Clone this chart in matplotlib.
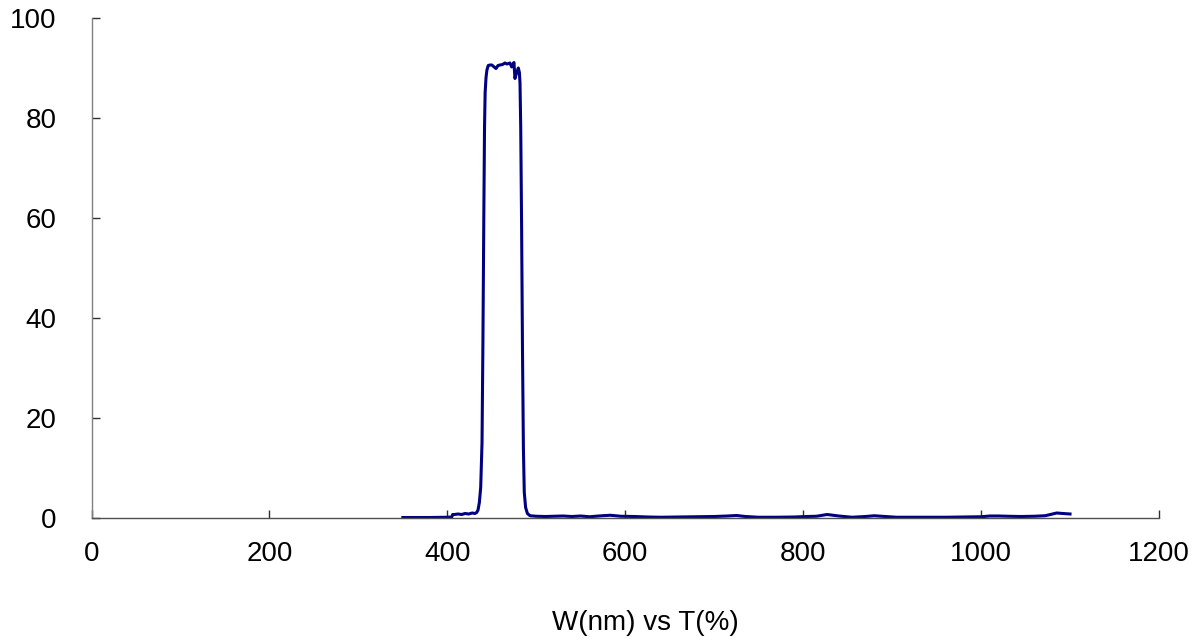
import matplotlib
matplotlib.use("Agg")
import matplotlib.pyplot as plt

wavelength_nm = [350, 360, 380, 400, 405, 406, 408, 412, 416, 420, 424, 428, 431, 433,
                 434.5, 436, 437.5, 439, 440, 441, 441.8, 442.5, 443.5, 444.5, 446,
                 448, 450, 452, 454.7, 457, 459.2, 462, 464.8, 467, 470.4, 472.3,
                 474.9, 476, 478, 479.8, 481, 481.7, 482.5, 483.5, 484.5, 485.5,
                 486.5, 488, 490, 493, 500, 510, 520, 530, 540, 550, 560, 570, 583, 595,
                 610, 625, 640, 660, 680, 700, 715, 725, 735, 750, 770, 790, 805,
                 815, 827, 840, 855, 870, 880, 892, 905, 920, 940, 960, 980, 1000,
                 1010, 1020, 1030, 1045, 1060, 1072, 1085, 1092, 1100]
transmission_pct = [0.0, 0.0, 0.0, 0.05, 0.1, 0.6, 0.6, 0.7, 0.6, 0.8, 0.7, 0.9, 0.8, 1.0,
                    1.5, 3.0, 6.0, 15.0, 35.0, 60.0, 78.0, 85.0, 88.0, 89.5, 90.4,
                    90.5, 90.5, 90.2, 89.8, 90.4, 90.5, 90.6, 90.9, 90.7, 90.9, 90.1,
                    91.0, 87.8, 89.0, 89.9, 89.0, 86.9, 78.0, 58.0, 33.0, 14.0,
                    5.0, 2.0, 0.8, 0.35, 0.25, 0.2, 0.25, 0.3, 0.2, 0.3, 0.15, 0.3, 0.45, 0.25,
                    0.2, 0.1, 0.05, 0.1, 0.15, 0.2, 0.3, 0.4, 0.2, 0.05, 0.05, 0.1, 0.2,
                    0.25, 0.6, 0.3, 0.05, 0.2, 0.35, 0.2, 0.05, 0.05, 0.05, 0.05, 0.1, 0.15,
                    0.3, 0.3, 0.25, 0.2, 0.25, 0.35, 0.9, 0.8, 0.7]

x_ticks = [0, 200, 400, 600, 800, 1000, 1200]
y_ticks = [0, 20, 40, 60, 80, 100]
x_label = "W(nm) vs T(%)"

plt.rcParams['font.family'] = ['Liberation Sans', 'DejaVu Sans']

fig = plt.figure(figsize=(11.95, 6.44), dpi=100)
ax = fig.add_axes([91.5 / 1195, 1 - 517.5 / 644, (1159 - 91.5) / 1195, 500 / 644])

ax.plot(wavelength_nm, transmission_pct, color='#000080', linewidth=2.2,
        solid_joinstyle='round', clip_on=False)

ax.set_xlim(0, 1200)
ax.set_ylim(0, 100)
ax.set_xticks(x_ticks)
ax.set_yticks(y_ticks)
ax.set_xticklabels([str(v) for v in x_ticks])
ax.set_yticklabels([str(v) for v in y_ticks])

for s in ['top', 'right']:
    ax.spines[s].set_visible(False)
ax.spines['left'].set_color('#808080')
ax.spines['bottom'].set_color('#505050')
ax.spines['left'].set_linewidth(1.0)
ax.spines['bottom'].set_linewidth(1.0)

ax.tick_params(axis='x', direction='in', length=6, width=1.0, color='#303030',
               labelsize=20, pad=17, labelcolor='black')
ax.tick_params(axis='y', direction='in', length=6, width=1.0, color='#303030',
               labelsize=20, pad=25, labelcolor='black')

fig.text(645 / 1195, 1 - 623 / 644, x_label, ha='center', va='center', fontsize=20)

fig.savefig('out.png', dpi=100)
